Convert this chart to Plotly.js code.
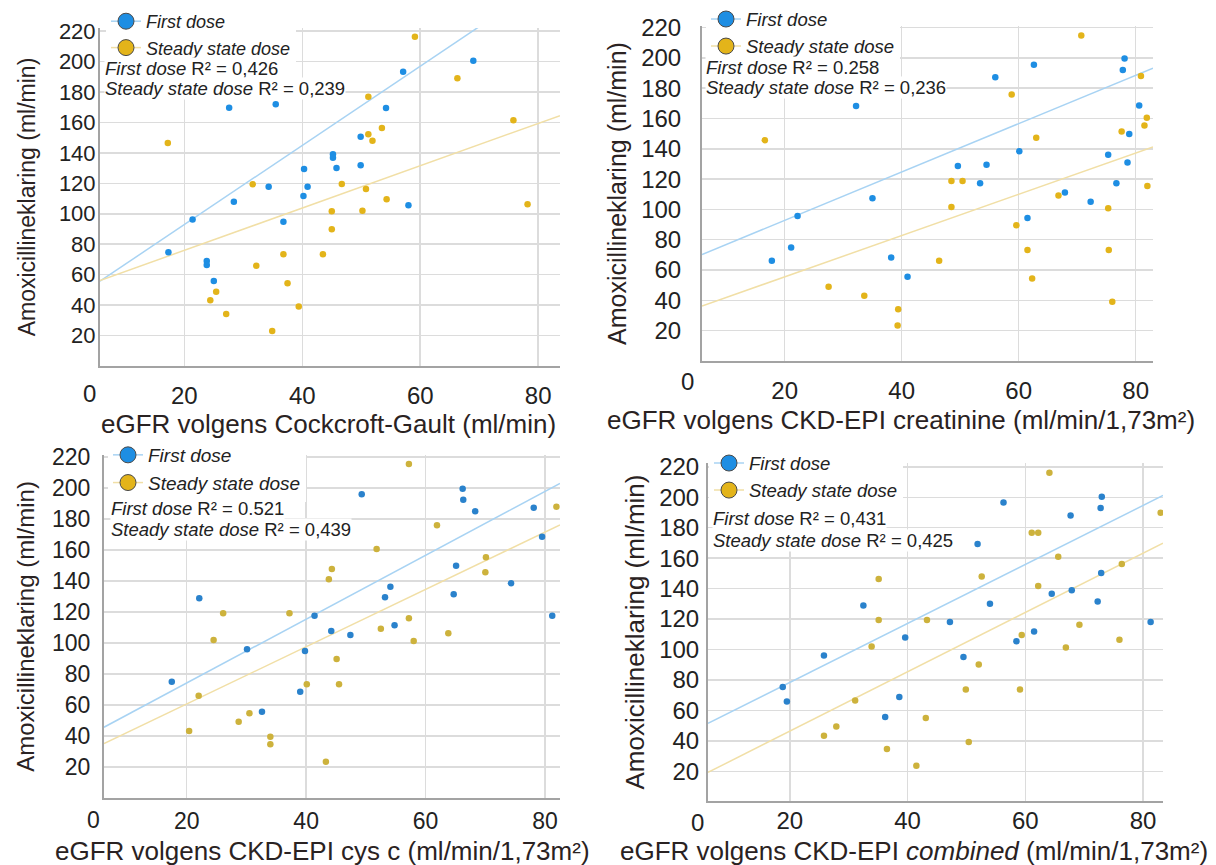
<!DOCTYPE html>
<html>
<head>
<meta charset="utf-8">
<script src="https://cdn.plot.ly/plotly-3.0.1.min.js"></script>
<style>html,body{margin:0;padding:0;background:#fff;}#chart{width:1216px;height:865px;}</style>
</head>
<body>
<div id="chart"></div>
<script>
// ---------- data ----------
const seriesNames = ["First dose", "Steady state dose"];
const yTicks = [20, 40, 60, 80, 100, 120, 140, 160, 180, 200, 220];
const xTicks = [20, 40, 60, 80];

// Panel 1: Cockcroft-Gault
const p1FirstX  = [27.6,35.5,17.3,21.4,28.4,23.8,23.8,25.0,34.3,40.3,40.9,40.2,36.8,69.0,57.1,54.2,49.9,45.2,45.2,45.8,49.9,58.0];
const p1FirstY  = [169.7,171.9,74.7,96.3,107.9,69.0,66.3,55.8,117.8,129.4,117.8,111.7,94.8,200.5,193.3,169.5,150.6,139.0,136.8,130.0,131.8,105.5];
const p1SteadyX = [17.2,31.6,32.2,36.8,37.5,39.4,34.9,25.4,24.4,27.1,43.5,59.1,66.3,51.2,53.5,51.2,51.9,75.8,46.7,50.8,54.3,45.0,50.2,45.0,78.2];
const p1SteadyY = [146.5,119.3,65.9,73.4,54.3,39.0,23.0,48.8,43.2,34.2,73.4,216.3,189.0,176.9,156.3,152.2,148.0,161.4,119.5,116.3,109.5,101.6,102.0,89.8,106.2];

// Panel 2: CKD-EPI creatinine
const p2FirstX  = [32.2,35.0,22.2,21.1,17.8,38.2,41.0,56.0,62.6,78.1,77.8,80.6,78.9,75.3,78.6,76.7,60.1,49.6,54.5,53.4,67.9,72.3,61.5];
const p2FirstY  = [168.3,107.4,95.7,74.9,66.1,68.3,55.6,187.2,195.5,199.5,192.0,168.6,149.7,136.0,131.0,117.2,138.3,128.6,129.5,117.2,111.1,105.1,94.4];
const p2SteadyX = [16.6,27.5,33.6,39.4,39.3,70.7,80.9,58.8,81.9,81.5,77.6,63.0,48.5,50.4,48.5,66.8,75.3,82.0,59.6,61.5,75.4,62.3,76.0,46.4];
const p2SteadyY = [145.7,49.0,43.1,34.1,23.4,214.8,188.0,175.8,160.4,155.4,151.4,147.2,118.8,118.8,101.6,109.1,100.8,115.5,89.6,73.2,73.2,54.5,39.1,66.1];

// Panel 3: CKD-EPI cys c
const p3FirstX  = [22.1,17.5,30.1,41.4,39.8,39.0,32.6,49.3,66.2,66.3,68.3,78.1,79.5,65.1,74.3,64.7,54.1,53.2,54.8,81.2,44.2,47.4];
const p3FirstY  = [128.8,75.0,95.9,117.6,94.8,68.6,55.7,195.9,199.5,192.5,185.0,187.3,168.6,149.9,138.5,131.4,136.3,129.5,111.4,117.6,107.7,105.2];
const p3SteadyX = [26.1,37.2,24.5,22.0,20.4,28.7,30.5,34.0,34.0,40.1,57.2,61.9,81.9,51.8,70.1,70.0,44.3,43.8,57.2,52.5,58.0,63.8,45.1,45.5,43.3];
const p3SteadyY = [119.2,119.2,101.9,66.0,43.2,49.2,54.6,39.5,34.6,73.4,215.5,175.9,187.9,160.6,155.3,145.6,147.7,141.1,115.9,109.2,101.3,106.3,89.7,73.4,23.4];

// Panel 4: CKD-EPI combined
const p4FirstX  = [32.5,25.8,39.6,18.8,19.5,38.6,36.2,56.3,73.0,72.8,67.7,51.9,72.9,64.5,67.9,72.3,54.0,47.2,81.3,61.5,58.5,49.5];
const p4FirstY  = [128.9,96.1,107.9,75.3,65.9,68.8,55.6,196.6,200.3,192.9,188.0,169.3,150.2,136.6,139.0,131.6,130.0,118.0,118.0,111.9,105.5,95.0];
const p4SteadyX = [35.1,35.1,43.3,33.9,31.1,27.9,25.8,43.1,36.5,41.5,64.1,61.1,62.2,65.6,76.4,52.6,62.2,69.2,59.4,76.0,66.9,52.1,49.9,59.1,50.4,83.0];
const p4SteadyY = [146.3,119.3,119.3,102.0,66.5,49.5,43.3,55.0,34.6,23.6,216.1,176.7,176.7,160.9,156.1,148.0,141.7,116.3,109.5,106.4,101.4,90.2,73.8,73.8,39.2,189.8];

// fitted lines (intercept, slope) for [first, steady]
const fitIntercepts = [[40.9, 48.2], [60.9, 28.3], [33.0, 23.7], [39.7, 7.4]];
const fitSlopes     = [[2.60, 1.389], [1.595, 1.361], [2.06, 1.848], [1.936, 1.948]];
const r2Labels      = [["0,426", "0,239"], ["0.258", "0,236"], ["0.521", "0,439"], ["0,431", "0,425"]];

const xTitles = [
  "eGFR volgens Cockcroft-Gault (ml/min)",
  "eGFR volgens CKD-EPI creatinine (ml/min/1,73m²)",
  "eGFR volgens CKD-EPI cys c (ml/min/1,73m²)",
  "eGFR volgens CKD-EPI <i>combined</i> (ml/min/1,73m²)"
];
const yTitle = "Amoxicillineklaring (ml/min)";

// ---------- layout geometry (pixels) ----------
const W = 1216, H = 865;
const panels = [
  {fx:p1FirstX, fy:p1FirstY, sx:p1SteadyX, sy:p1SteadyY, px:[100,560], py:[28,366], xr:[5.7,83.7], yr:[0,222],
   ystand:-2, xstand:7, ytStand:17, ytf:23, xtitle:[328,424], zero:[89,393], leg:[106,3], legFont:18,
   r2:[104,68.5,88.5], yTickF:22, xTickF:24, xtf:26},
  {fx:p2FirstX, fy:p2FirstY, sx:p2SteadyX, sy:p2SteadyY, px:[702,1153], py:[26,361], xr:[5.86,82.96], yr:[0,221],
   ystand:14, xstand:7, ytStand:7, ytf:25, xtitle:[901,420], zero:[687,381], leg:[706,0.5], legFont:18.5,
   r2:[705,68,88], yTickF:24, xTickF:24, xtf:26},
  {fx:p3FirstX, fy:p3FirstY, sx:p3SteadyX, sy:p3SteadyY, px:[104,560], py:[455,798], xr:[6.15,82.5], yr:[0,221.3],
   ystand:7, xstand:1, ytStand:11, ytf:24, xtitle:[322,851], zero:[93,820], leg:[108,436], legFont:19,
   r2:[110,508,529], yTickF:23, xTickF:23, xtf:26},
  {fx:p4FirstX, fy:p4FirstY, sx:p4SteadyX, sy:p4SteadyY, px:[708,1163], py:[463,801], xr:[6.1,83.4], yr:[0.5,222.5],
   ystand:2, xstand:-3, ytStand:7, ytf:26, xtitle:[914,851], zero:[697,822], leg:[709,444.5], legFont:18.5,
   r2:[712,518,540], yTickF:24, xTickF:24, xtf:26}
];

const dotColors  = [["#1e8ee3", "#e3b41a"], ["#1e8ee3", "#e3b41a"], ["#2a82cc", "#cdb23c"], ["#2a82cc", "#cdb23c"]];
const lineColors = ["#a8d3f3", "#f1dfa6"];
const legendFill = ["#1e8ee3", "#e3b41a"];
const fontFam = "Liberation Sans, Arial, sans-serif";

const traces = [];
const layout = {
  width: W, height: H, margin: {l:0, r:0, t:0, b:0},
  paper_bgcolor: "#ffffff", plot_bgcolor: "#ffffff",
  font: {family: fontFam, color: "#222"},
  showlegend: true, annotations: [], hovermode: false
};

panels.forEach((p, i) => {
  const n = i + 1;
  const xa = "x" + (n === 1 ? "" : n), ya = "y" + (n === 1 ? "" : n);
  const legName = n === 1 ? "legend" : "legend" + n;
  const xs = [[p.fx, p.fy], [p.sx, p.sy]];
  for (let s = 0; s < 2; s++) {
    const a = fitIntercepts[i][s], b = fitSlopes[i][s];
    traces.push({type:"scatter", mode:"lines", x:[p.xr[0], p.xr[1]], y:[a + b*p.xr[0], a + b*p.xr[1]],
      xaxis:xa, yaxis:ya, line:{color:lineColors[s], width:1.5}, showlegend:false, hoverinfo:"skip"});
  }
  for (let s = 0; s < 2; s++) {
    traces.push({type:"scatter", mode:"markers", x:xs[s][0], y:xs[s][1], xaxis:xa, yaxis:ya,
      marker:{color:dotColors[i][s], size:6.5}, showlegend:false, name:seriesNames[s]});
  }
  for (let s = 0; s < 2; s++) {
    traces.push({type:"scatter", mode:"lines+markers", x:[null], y:[null], xaxis:xa, yaxis:ya,
      name:"<i>" + seriesNames[s] + "</i>", legend:legName,
      line:{color:lineColors[s], width:1.5},
      marker:{color:legendFill[s], size:16, line:{color:"#4a4a4a", width:1}}, showlegend:true});
  }
  const axx = n === 1 ? "xaxis" : "xaxis" + n;
  const axy = n === 1 ? "yaxis" : "yaxis" + n;
  layout[axx] = {
    domain:[p.px[0]/W, p.px[1]/W], range:p.xr, anchor:ya,
    tickvals:xTicks, showgrid:true, gridcolor:"#dcdcdc", gridwidth:1.5,
    showline:true, linecolor:"#a3a3a3", linewidth:2, zeroline:false,
    ticks:"", ticklabelstandoff:p.xstand, tickfont:{size:p.xTickF, color:"#222"}, fixedrange:true
  };
  layout[axy] = {
    domain:[1 - p.py[1]/H, 1 - p.py[0]/H], range:p.yr, anchor:xa,
    tickvals:yTicks, showgrid:true, gridcolor:"#dcdcdc", gridwidth:1.5,
    showline:true, linecolor:"#a3a3a3", linewidth:2, zeroline:false,
    ticks:"", ticklabelstandoff:p.ystand, tickfont:{size:p.yTickF, color:"#222"}, fixedrange:true,
    title:{text:yTitle, font:{size:p.ytf, color:"#2a2222"}, standoff:p.ytStand}
  };
  layout[legName] = {
    x:p.leg[0]/W, y:1 - p.leg[1]/H, xanchor:"left", yanchor:"top",
    bgcolor:"rgba(255,255,255,1)", borderwidth:0, font:{size:p.legFont, color:"#222"},
    tracegroupgap:0, itemwidth:30
  };
  layout.annotations.push({xref:"paper", yref:"paper", x:p.xtitle[0]/W, y:1 - p.xtitle[1]/H,
    xanchor:"center", yanchor:"middle", showarrow:false, text:xTitles[i], font:{size:p.xtf, color:"#2a2222"}});
  layout.annotations.push({xref:"paper", yref:"paper", x:p.zero[0]/W, y:1 - p.zero[1]/H,
    xanchor:"center", yanchor:"middle", showarrow:false, text:"0", font:{size:p.xTickF, color:"#222"}});
  for (let s = 0; s < 2; s++) {
    layout.annotations.push({xref:"paper", yref:"paper", x:p.r2[0]/W, y:1 - p.r2[1+s]/H,
      xanchor:"left", yanchor:"middle", showarrow:false, bgcolor:"#ffffff", borderpad:0,
      text:"<i>" + seriesNames[s] + "</i> R² = " + r2Labels[i][s], font:{size:18.5, color:"#222"}});
  }
});

Plotly.newPlot("chart", traces, layout, {displayModeBar:false, staticPlot:true});
</script>
</body>
</html>
